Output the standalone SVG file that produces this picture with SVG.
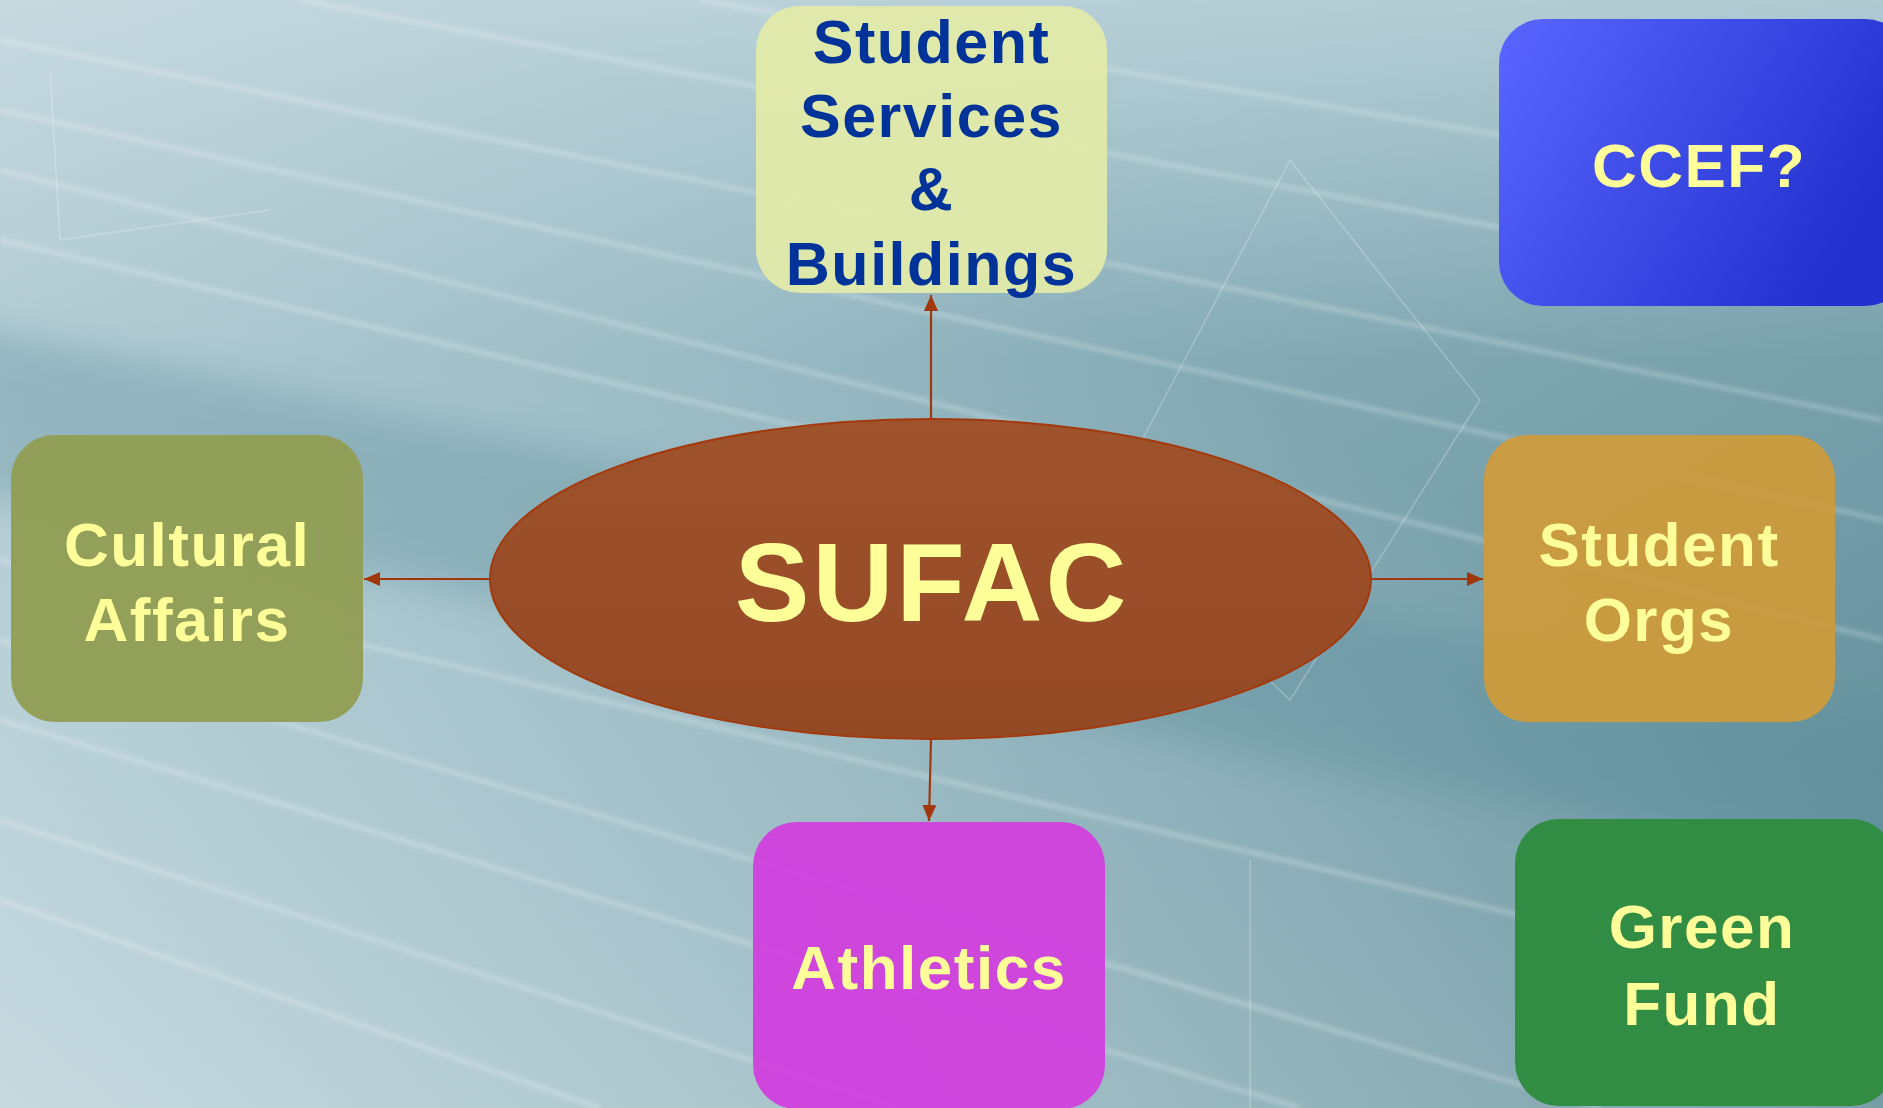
<svg xmlns="http://www.w3.org/2000/svg" width="1883" height="1108" viewBox="0 0 1883 1108">
  <defs>
    <linearGradient id="bg" x1="0" y1="0" x2="1" y2="1">
      <stop offset="0" stop-color="#a9c4cc"/>
      <stop offset="0.35" stop-color="#8fb3bd"/>
      <stop offset="0.65" stop-color="#77a0ab"/>
      <stop offset="1" stop-color="#5b8994"/>
    </linearGradient>
    <linearGradient id="bgTop" x1="0" y1="0" x2="0" y2="1">
      <stop offset="0" stop-color="#dbe9ee" stop-opacity="0.5"/>
      <stop offset="1" stop-color="#dbe9ee" stop-opacity="0"/>
    </linearGradient>
    <linearGradient id="bgBL" x1="0" y1="1" x2="0.6" y2="0.3">
      <stop offset="0" stop-color="#e3eef2" stop-opacity="0.7"/>
      <stop offset="1" stop-color="#e3eef2" stop-opacity="0"/>
    </linearGradient>
    <linearGradient id="ccef" x1="0" y1="0" x2="1" y2="0.4">
      <stop offset="0" stop-color="#5a66ff"/>
      <stop offset="1" stop-color="#2231cf"/>
    </linearGradient>
    <linearGradient id="sufacG" x1="0" y1="0" x2="0" y2="1">
      <stop offset="0" stop-color="#9f532c"/>
      <stop offset="1" stop-color="#944925"/>
    </linearGradient>
    <filter id="soft" x="-5%" y="-5%" width="110%" height="110%">
      <feGaussianBlur stdDeviation="2.5"/>
    </filter>
    <filter id="softer" x="-5%" y="-20%" width="110%" height="140%">
      <feGaussianBlur stdDeviation="18"/>
    </filter>
    <marker id="arr" viewBox="0 0 16 14" refX="16" refY="7" markerWidth="16" markerHeight="14" markerUnits="userSpaceOnUse" orient="auto">
      <path d="M0,0 L16,7 L0,14 Z" fill="#a0380c"/>
    </marker>
    <style>
      .box { stroke: none; }
      .lbl { font-family: "Liberation Sans", Arial, sans-serif; font-weight: bold; text-anchor: middle; fill: #ffff99; letter-spacing: 1.5px; }
      .lbl.blue { fill: #003399; }
      .conn { stroke: #a0380c; stroke-width: 2.2; fill: none; marker-end: url(#arr); }
      .streak { stroke: #ffffff; fill: none; }
    </style>
  </defs>

  <g id="background">
    <rect x="0" y="0" width="1883" height="1108" fill="url(#bg)"/>
    <rect x="0" y="0" width="1883" height="360" fill="url(#bgTop)"/>
    <rect x="0" y="0" width="1883" height="1108" fill="url(#bgBL)"/>
    <path d="M-150,300 L2050,755 L2050,915 L-150,470 Z" fill="#4f8593" opacity="0.3" filter="url(#softer)"/>
    <g class="streak" opacity="0.4" stroke-width="3" filter="url(#soft)">
      <path d="M0,40 L1883,420"/>
      <path d="M0,110 L1883,520"/>
      <path d="M0,170 L1883,640"/>
      <path d="M0,240 L1200,520"/>
      <path d="M0,560 L1883,1000"/>
      <path d="M0,640 L1600,1108"/>
      <path d="M0,720 L1300,1108"/>
      <path d="M0,820 L900,1108"/>
      <path d="M300,0 L1883,300"/>
      <path d="M700,0 L1883,200"/>
      <path d="M0,900 L600,1108"/>
    </g>
    <g class="streak" opacity="0.25" stroke-width="1.5">
      <path d="M1290,160 L1100,520 L1290,700 L1480,400 Z"/>
      <path d="M50,70 L60,240 L270,210"/>
      <path d="M1250,860 L1250,1108"/>
    </g>
  </g>

  <g id="connectors">
    <line class="conn" x1="931" y1="419" x2="931" y2="295"/>
    <line class="conn" x1="490" y1="579" x2="364" y2="579"/>
    <line class="conn" x1="1371" y1="579" x2="1483" y2="579"/>
    <line class="conn" x1="931" y1="739" x2="929" y2="821"/>
  </g>

  <g id="node-student-services">
    <rect class="box" x="756" y="6" width="351" height="287" rx="44" fill="#e1eaa9" opacity="0.95"/>
    <text class="lbl blue" font-size="61" x="931.5" y="63">Student</text>
    <text class="lbl blue" font-size="61" x="931.5" y="137">Services</text>
    <text class="lbl blue" font-size="61" x="931.5" y="210">&amp;</text>
    <text class="lbl blue" font-size="61" x="931.5" y="285">Buildings</text>
  </g>

  <g id="node-ccef">
    <rect class="box" x="1499" y="19" width="410" height="287" rx="44" fill="url(#ccef)"/>
    <text class="lbl" font-size="62" x="1699" y="187">CCEF?</text>
  </g>

  <g id="node-cultural-affairs">
    <rect class="box" x="11" y="435" width="352" height="287" rx="44" fill="#929e55" opacity="0.97"/>
    <text class="lbl" font-size="62" x="187" y="566">Cultural</text>
    <text class="lbl" font-size="62" x="187" y="641">Affairs</text>
  </g>

  <g id="node-student-orgs">
    <rect class="box" x="1484" y="435" width="351" height="287" rx="44" fill="#cb9b3e" opacity="0.97"/>
    <text class="lbl" font-size="62" x="1659" y="566">Student</text>
    <text class="lbl" font-size="62" x="1659" y="641">Orgs</text>
  </g>

  <g id="node-sufac">
    <ellipse cx="930.5" cy="579" rx="440.5" ry="160" fill="url(#sufacG)" stroke="#a33a0e" stroke-width="2"/>
    <text class="lbl" font-size="112" x="932" y="621" style="letter-spacing:3px">SUFAC</text>
  </g>

  <g id="node-athletics">
    <rect class="box" x="753" y="822" width="352" height="287" rx="44" fill="#d042dd" opacity="0.97"/>
    <text class="lbl" font-size="62" x="929" y="989">Athletics</text>
  </g>

  <g id="node-green-fund">
    <rect class="box" x="1515" y="819" width="380" height="287" rx="44" fill="#2f8c40" opacity="0.97"/>
    <text class="lbl" font-size="62" x="1702" y="948">Green</text>
    <text class="lbl" font-size="62" x="1702" y="1025">Fund</text>
  </g>
</svg>
